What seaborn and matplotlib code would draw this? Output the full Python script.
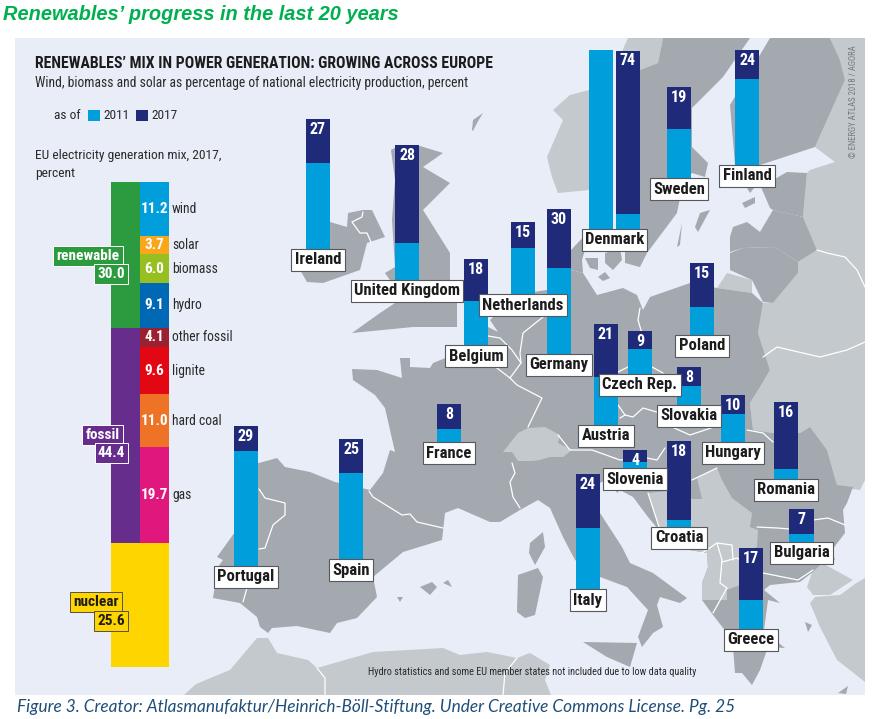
import matplotlib
matplotlib.use("Agg")
import matplotlib.pyplot as plt
import matplotlib.font_manager as fm
import seaborn as sns
from matplotlib.patches import Polygon, Rectangle

# Country values (percent)
countries = ["Ireland", "United Kingdom", "Belgium", "Netherlands", "Germany", "Sweden", "Finland",
             "Poland", "Austria", "Czech Rep.", "Slovakia", "Hungary", "Romania", "Bulgaria",
             "Greece", "Croatia", "Slovenia", "Italy", "France", "Spain", "Portugal"]
share_2011 = [18, 7.8, 9.3, 9.7, 18, 10.3, 18, 6, 10.1, 5.4, 4.1, 6, 2.3, 1.9, 6.2, 1.7, 1.4, 12.8, 2.9, 18, 24]
share_2017 = [27, 28, 18, 15, 30, 19, 24, 15, 21, 9, 8, 10, 16, 7, 17, 18, 4, 24, 8, 25, 29]
denmark_2011 = 40.3
denmark_2017 = 74

# EU mix 2017 (percent)
group_names = ["renewable", "fossil", "nuclear"]
group_values = [30.0, 44.4, 25.6]
source_names = ["wind", "solar", "biomass", "hydro", "other fossil", "lignite", "hard coal", "gas"]
source_values = [11.2, 3.7, 6.0, 9.1, 4.1, 9.6, 11.0, 19.7]

# Layout in image pixels
W, H = 882, 719
PX_PER_PCT = 4.85
BAR_W = 24.5
bar_x = [318, 407, 476, 523, 559, 679, 747, 702, 606, 640, 689, 733, 786, 801.5, 751, 679, 635, 588, 449, 351, 246]
bar_base = [250, 281, 346, 295, 355, 179, 166, 336, 426, 375, 406, 443, 480, 543, 630, 528, 469, 590, 443, 560, 567]
DENMARK_X = [601, 628]
DENMARK_BASE = 230
DENMARK_WRAP = 37.1

# Colours
C2011 = "#009fdb"
C2017 = "#1f2a78"
LAND = "#a4a9af"
LAND_LIGHT = "#c4c9cd"
SEA = "#e8edf8"
INK = "#2a2a2a"
group_colors = ["#2c9a3e", "#662d8c", "#ffd500"]
source_colors = ["#009fdb", "#f9a61a", "#98bf20", "#0068b4", "#9a2130", "#e30613", "#ee7326", "#e0187e"]

# Narrow face if the machine has one, plain DejaVu otherwise
have = {f.name for f in fm.fontManager.ttflist}
NARROW = next((n for n in ["Roboto Condensed", "Barlow Semi Condensed", "Saira SemiCondensed", "Sofia Sans Condensed"] if n in have), "DejaVu Sans")

# Background map outlines, traced by hand in pixels
land_light = [
    # Russia / Belarus / Ukraine
    [(830, 38), (865, 38), (865, 480), (860, 490), (853, 489), (840, 490), (827, 450), (810, 427), (800, 433), (773, 433),
     (753, 430), (750, 403), (760, 387), (770, 370), (758, 333), (763, 303), (773, 303), (798, 273), (798, 262), (817, 250),
     (803, 217), (807, 173), (810, 170), (835, 162), (815, 147), (845, 80), (840, 60)],
    # Moldova
    [(810, 427), (827, 422), (863, 463), (853, 487), (837, 485), (827, 450)],
    # Kaliningrad
    [(727, 273), (752, 280), (752, 293), (717, 288)],
    # Norway
    [(553, 110), (563, 120), (547, 157), (552, 177), (558, 193), (589, 190), (589, 90), (570, 95)],
    [(628, 38), (663, 38), (658, 63), (640, 70), (640, 100), (616, 100), (616, 65)],
    # Turkey
    [(822, 563), (853, 580), (830, 595), (813, 595), (807, 587), (813, 570)],
    [(865, 578), (855, 584), (840, 595), (815, 597), (810, 603), (820, 627), (837, 660), (865, 682)],
    # North Africa
    [(184, 695), (196, 684), (230, 670), (257, 638), (268, 638), (277, 653), (308, 660), (317, 668), (373, 652),
     (443, 648), (460, 655), (487, 652), (517, 658), (530, 653), (550, 665), (545, 680), (551, 695)],
]
land_dark = [
    # Mainland Europe
    [(259, 463), (277, 458), (285, 467), (310, 472), (335, 482), (370, 490), (383, 473), (390, 450), (395, 452), (385, 408),
     (375, 395), (353, 380), (352, 369), (377, 370), (402, 378), (400, 358), (410, 358), (410, 367), (430, 368), (433, 363),
     (448, 357), (470, 345), (488, 337), (488, 327), (498, 332), (490, 320), (503, 308), (511, 295), (547, 290), (547, 270),
     (571, 270), (583, 273), (597, 295), (623, 288), (637, 295), (643, 310), (650, 297), (690, 283), (717, 288), (752, 293),
     (763, 303), (758, 333), (770, 370), (760, 387), (750, 403), (753, 430), (773, 433), (800, 433), (810, 427), (827, 450),
     (837, 485), (853, 487), (847, 503), (843, 510), (845, 533), (832, 550), (835, 560), (822, 563), (813, 572), (800, 582),
     (770, 585), (764, 590), (780, 603), (768, 600), (764, 630), (775, 640), (785, 648), (768, 647), (760, 670), (752, 685),
     (742, 673), (735, 673), (733, 647), (727, 633), (713, 615), (702, 600), (702, 583), (708, 567), (707, 553), (673, 547),
     (648, 517), (633, 497), (620, 490), (617, 493), (610, 478), (600, 483), (600, 513), (622, 547), (630, 563), (653, 573),
     (687, 598), (680, 603), (660, 597), (657, 605), (663, 627), (653, 633), (642, 647), (638, 637), (648, 610), (627, 587),
     (600, 577), (575, 560), (563, 537), (550, 508), (538, 500), (520, 510), (500, 522), (490, 522), (458, 508), (445, 513),
     (442, 540), (403, 552), (373, 577), (377, 597), (357, 618), (337, 623), (330, 633), (297, 626), (272, 628), (268, 633),
     (260, 627), (257, 617), (240, 603), (213, 598), (218, 567), (223, 560), (217, 557), (235, 532), (234, 463)],
    # Great Britain
    [(391, 150), (400, 145), (420, 146), (443, 153), (423, 167), (450, 183), (423, 210), (450, 253), (450, 280), (457, 297),
     (457, 327), (413, 327), (352, 333), (380, 313), (395, 303), (373, 300), (390, 280), (385, 273), (395, 267), (392, 220),
     (395, 180)],
    # Ireland
    [(330, 222), (347, 227), (348, 213), (363, 210), (372, 210), (385, 237), (367, 243), (360, 270), (323, 283), (307, 282),
     (300, 270), (306, 250), (306, 225)],
    # Sweden
    [(663, 38), (750, 38), (723, 77), (692, 108), (692, 147), (708, 163), (705, 177), (692, 173), (683, 183), (677, 213),
     (647, 253), (640, 267), (625, 263), (625, 253), (640, 230), (640, 70), (658, 63)],
    # Finland
    [(770, 38), (830, 38), (840, 60), (845, 80), (815, 147), (760, 165), (735, 165), (730, 105), (745, 80)],
    # Baltics
    [(761, 187), (787, 172), (807, 173), (803, 217), (773, 210), (770, 208)],
    [(730, 237), (733, 227), (747, 222), (760, 232), (773, 210), (803, 217), (817, 250), (798, 262), (775, 247), (743, 248), (730, 252)],
    [(730, 253), (743, 248), (775, 247), (798, 262), (798, 273), (773, 303), (763, 302), (752, 280), (730, 270)],
    # Denmark
    [(571, 250), (590, 230), (589, 248), (585, 250), (582, 260), (583, 273), (571, 270)],
    [(585, 258), (598, 258), (598, 270), (590, 268)],
    [(605, 253), (620, 248), (622, 260), (613, 270), (605, 263)],
    [(598, 277), (605, 272), (610, 278), (603, 281)],
    # Islands
    [(695, 227), (700, 213), (710, 210), (698, 232)],
    [(742, 203), (755, 197), (755, 203), (745, 208)],
    [(747, 188), (755, 187), (750, 193)],
    [(677, 247), (682, 223), (680, 245)],
    [(530, 543), (543, 532), (545, 547), (535, 565), (529, 553)],
    [(518, 575), (538, 568), (543, 577), (535, 615), (525, 618), (517, 612)],
    [(583, 642), (637, 643), (630, 667), (607, 657)],
    [(420, 587), (432, 582), (437, 587), (430, 595)],
    [(443, 583), (448, 580), (452, 587)],
    [(397, 597), (403, 597), (400, 602)],
    [(472, 130), (473, 120), (483, 113), (477, 123), (473, 131)],
    [(805, 622), (812, 625), (808, 632)],
    [(838, 693), (848, 686), (846, 694)],
]
land_light_top = [
    # Switzerland
    [(503, 452), (518, 433), (528, 428), (545, 427), (560, 435), (558, 443), (572, 450), (563, 457), (550, 457), (540, 460),
     (533, 461), (518, 461), (512, 452)],
    # Western Balkans
    [(648, 493), (667, 491), (692, 499), (702, 499), (697, 478), (717, 468), (722, 480), (732, 498), (752, 513), (750, 527),
     (758, 530), (757, 547), (740, 555), (740, 585), (727, 590), (727, 600), (702, 600), (702, 583), (708, 567), (707, 553),
     (673, 547), (660, 530)],
]
border_lines = [
    [(363, 212), (362, 217), (352, 222), (360, 233), (367, 233), (371, 242)],
    [(259, 489), (265, 498), (285, 503), (285, 515), (273, 525), (265, 548), (259, 549)],
    [(247, 588), (243, 602)],
    [(369, 491), (373, 497), (402, 515), (410, 514), (417, 522), (443, 528)],
    [(488, 336), (500, 338), (512, 350), (521, 363), (510, 378), (517, 385), (542, 398), (528, 427)],
    [(493, 365), (510, 378)],
    [(543, 317), (523, 333), (520, 353), (521, 363)],
    [(640, 308), (638, 320), (643, 337)],
    [(618, 372), (628, 367), (652, 367), (663, 373)],
    [(618, 405), (625, 415), (620, 418)],
    [(625, 415), (633, 417), (643, 408), (660, 413)],
    [(512, 463), (515, 473), (510, 482), (513, 497), (520, 508)],
    [(558, 435), (570, 450), (592, 450), (620, 460), (647, 458), (657, 460), (665, 448)],
    [(672, 427), (690, 435), (720, 425), (735, 433)],
    [(747, 430), (763, 433), (773, 442)],
    [(692, 480), (717, 468)],
    [(757, 527), (777, 528), (790, 529), (813, 520), (828, 518), (845, 525)],
    [(722, 562), (737, 558), (763, 573), (798, 580), (813, 570)],
    [(717, 543), (722, 560), (720, 583), (727, 588), (713, 613)],
    [(702, 553), (717, 543), (732, 545), (733, 560)],
    [(763, 357), (777, 347), (820, 357), (847, 350), (865, 342)],
    [(817, 250), (827, 253), (845, 257), (857, 270), (865, 287)],
    [(317, 668), (325, 678), (325, 695)],
    [(517, 658), (505, 673), (503, 695)],
    [(648, 493), (660, 530)],
]

sns.set_theme(style="white")
plt.rcParams["font.family"] = [NARROW, "DejaVu Sans"]

fig = plt.figure(figsize=(W / 100, H / 100), dpi=100, facecolor="white")

# Map axes, in pixels of the image
bg = fig.add_axes([0, 0, 1, 1], zorder=0)
bg.set_xlim(0, W)
bg.set_ylim(H, 0)
bg.axis("off")
bg.add_patch(Rectangle((15, 38), 850, 657, fc=SEA, ec="none"))
for shape in land_light:
    bg.add_patch(Polygon(shape, fc=LAND_LIGHT, ec="none"))
for shape in land_dark:
    bg.add_patch(Polygon(shape, fc=LAND, ec="none"))
for shape in land_light_top:
    bg.add_patch(Polygon(shape, fc=LAND_LIGHT, ec="none"))
for line in border_lines:
    bg.plot([p[0] for p in line], [p[1] for p in line], color="white", lw=0.9)

# Top axes for all text boxes
top = fig.add_axes([0, 0, 1, 1], zorder=5)
top.set_xlim(0, W)
top.set_ylim(H, 0)
top.axis("off")
top.patch.set_alpha(0)


def bar_axes(cx, base, height):
    # one small axes per bar, sized so the percent scale is the same everywhere
    ax = fig.add_axes([(cx - BAR_W / 2) / W, 1 - base / H, BAR_W / W, height * PX_PER_PCT / H], zorder=2)
    ax.set_facecolor("none")
    return ax


def draw_bar(cx, base, light, total):
    ax = bar_axes(cx, base, total)
    if total > light:
        sns.barplot(x=["v"], y=[total], color=C2017, saturation=1, width=1, linewidth=0, ax=ax)
    sns.barplot(x=["v"], y=[min(light, total)], color=C2011, saturation=1, width=1, linewidth=0, ax=ax)
    ax.set_xlim(-0.5, 0.5)
    ax.set_ylim(0, total)
    ax.axis("off")


def country_label(cx, base, text):
    top.text(cx, base + 10, text, ha="center", va="center", fontsize=12, fontweight="bold", color="#1c1c1c",
             bbox=dict(boxstyle="square,pad=0.2", fc="white", ec="#55585c", lw=0.8))


for name, x, base, a, b in zip(countries, bar_x, bar_base, share_2011, share_2017):
    draw_bar(x, base, a, b)
    top.text(x, base - b * PX_PER_PCT + 10.5, str(b), ha="center", va="center", color="white",
             fontsize=11.5, fontweight="bold")
    country_label(x, base, name)

# Denmark does not fit, so the bar folds over into a second column
draw_bar(DENMARK_X[0], DENMARK_BASE, DENMARK_WRAP, DENMARK_WRAP)
draw_bar(DENMARK_X[1], DENMARK_BASE, denmark_2011 - DENMARK_WRAP, denmark_2017 - DENMARK_WRAP)
top.text(DENMARK_X[1], 60.5, str(denmark_2017), ha="center", va="center", color="white", fontsize=11.5, fontweight="bold")
country_label(sum(DENMARK_X) / 2, DENMARK_BASE, "Denmark")

# EU mix, two stacked columns on a 0-100 axis
mix = fig.add_axes([111 / W, 1 - 667 / H, 58 / W, 485 / H], zorder=2)
for col, values, colors in [("group", group_values, group_colors), ("source", source_values + group_values[2:], source_colors + group_colors[2:])]:
    ends = [sum(values[:i + 1]) for i in range(len(values))]
    for end, c in reversed(list(zip(ends, colors))):
        sns.barplot(x=[col], y=[end], order=["group", "source"], color=c, saturation=1, width=1, linewidth=0, ax=mix)
mix.set_xlim(-0.5, 1.5)
mix.set_ylim(100, 0)
mix.axis("off")
start = 0
for name, v in zip(source_names, source_values):
    mid = start + v / 2
    mix.text(1, mid, f"{v:.1f}", ha="center", va="center", color="white", fontsize=11, fontweight="bold")
    mix.text(1.6, mid, name, ha="left", va="center", color=INK, fontsize=9.8)
    start += v

# Badges beside the mix
badges = [
    (88, 256, group_names[0], group_colors[0], "white", "white"),
    (111, 274, f"{group_values[0]:.1f}", group_colors[0], "white", "white"),
    (102.5, 435, group_names[1], group_colors[1], "white", "white"),
    (111.5, 453, f"{group_values[1]:.1f}", group_colors[1], "white", "white"),
    (96, 602, group_names[2], group_colors[2], "#1c1c1c", "#55504a"),
    (111, 621, f"{group_values[2]:.1f}", group_colors[2], "#1c1c1c", "#55504a"),
]
for x, y, text, fc, tc, ec in badges:
    top.text(x, y, text, ha="center", va="center", color=tc, fontsize=11, fontweight="bold",
             bbox=dict(boxstyle="square,pad=0.2", fc=fc, ec=ec, lw=0.7))

# Titles and notes
top.text(3, 14, "Renewables\u2019 progress in the last 20 years", color="#00b050", fontsize=14.4, fontweight="bold",
         fontstyle="italic", family="Liberation Sans", ha="left", va="center")
top.text(35, 64, "RENEWABLES\u2019 MIX IN POWER GENERATION: GROWING ACROSS EUROPE", color="#1c1c1c", fontsize=11.3,
         fontweight="bold", ha="left", va="center")
top.text(35, 83, "Wind, biomass and solar as percentage of national electricity production, percent", color=INK,
         fontsize=9.8, ha="left", va="center")
top.text(54, 115.5, "as of", color=INK, fontsize=9.6, ha="left", va="center")
top.add_patch(Rectangle((88, 110), 12, 11, fc=C2011, ec="none"))
top.text(103, 115.5, "2011", color=INK, fontsize=9.6, ha="left", va="center")
top.add_patch(Rectangle((136, 110), 12, 11, fc=C2017, ec="none"))
top.text(151, 115.5, "2017", color=INK, fontsize=9.6, ha="left", va="center")
top.text(35, 155, "EU electricity generation mix, 2017,", color=INK, fontsize=9.7, ha="left", va="center")
top.text(35, 173, "percent", color=INK, fontsize=9.7, ha="left", va="center")
top.text(368, 672, "Hydro statistics and some EU member states not included due to low data quality", color=INK,
         fontsize=7.4, ha="left", va="center")
top.text(853, 102, "\u00a9 ENERGY ATLAS 2018 / AGORA", color="#777b80", fontsize=6.2, rotation=90, ha="center", va="center")
top.text(17, 707, "Figure 3. Creator: Atlasmanufaktur/Heinrich-B\u00f6ll-Stiftung. Under Creative Commons License. Pg. 25",
         color="#1f4e79", fontsize=12.45, fontstyle="italic", family="Lato", ha="left", va="center")

fig.savefig("out.png", dpi=100, facecolor="white")
